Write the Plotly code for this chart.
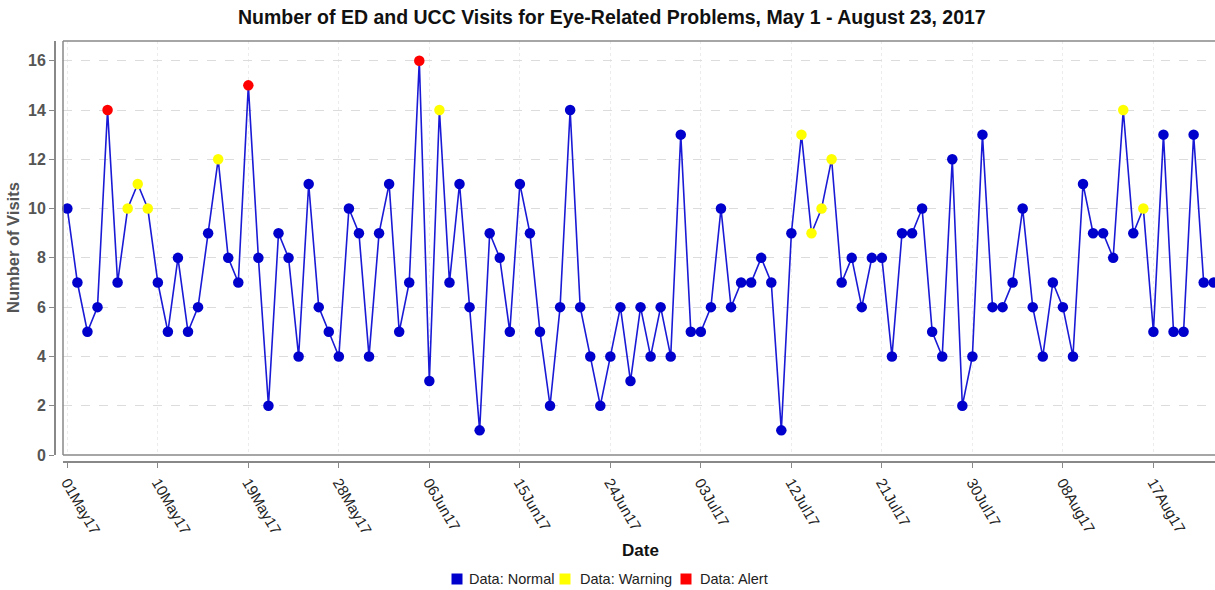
import plotly.graph_objects as go
import pandas as pd

start_date = "2017-05-01"
visits = [10, 7, 5, 6, 14, 7, 10, 11, 10, 7, 5, 8, 5, 6, 9, 12, 8, 7, 15, 8,
          2, 9, 8, 4, 11, 6, 5, 4, 10, 9, 4, 9, 11, 5, 7, 16, 3, 14, 7, 11,
          6, 1, 9, 8, 5, 11, 9, 5, 2, 6, 14, 6, 4, 2, 4, 6, 3, 6, 4, 6,
          4, 13, 5, 5, 6, 10, 6, 7, 7, 8, 7, 1, 9, 13, 9, 10, 12, 7, 8, 6,
          8, 8, 4, 9, 9, 10, 5, 4, 12, 2, 4, 13, 6, 6, 7, 10, 6, 4, 7, 6,
          4, 11, 9, 9, 8, 14, 9, 10, 5, 13, 5, 5, 13, 7, 7]
status = ["N", "N", "N", "N", "A", "N", "W", "W", "W", "N", "N", "N", "N", "N", "N", "W", "N", "N", "A", "N",
          "N", "N", "N", "N", "N", "N", "N", "N", "N", "N", "N", "N", "N", "N", "N", "A", "N", "W", "N", "N",
          "N", "N", "N", "N", "N", "N", "N", "N", "N", "N", "N", "N", "N", "N", "N", "N", "N", "N", "N", "N",
          "N", "N", "N", "N", "N", "N", "N", "N", "N", "N", "N", "N", "N", "W", "W", "W", "W", "N", "N", "N",
          "N", "N", "N", "N", "N", "N", "N", "N", "N", "N", "N", "N", "N", "N", "N", "N", "N", "N", "N", "N",
          "N", "N", "N", "N", "N", "W", "N", "W", "N", "N", "N", "N", "N", "N", "N"]

dates = pd.date_range(start_date, periods=len(visits), freq="D")
df = pd.DataFrame({"date": dates, "visits": visits, "status": status})

groups = [("N", "Data: Normal", "#0000CC"),
          ("W", "Data: Warning", "#FFFF00"),
          ("A", "Data: Alert", "#FF0000")]
# legend placement (pixel x of square centre, text left)
legend_pos = [(457, 467), (565, 578), (686, 698)]

FONT = "Liberation Sans, Arial, sans-serif"

fig = go.Figure()
fig.add_trace(go.Scatter(x=df["date"], y=df["visits"], mode="lines",
                         line=dict(color="#1a1ad6", width=1.6),
                         showlegend=False, hoverinfo="skip"))
for code, name, color in groups:
    sub = df[df["status"] == code]
    fig.add_trace(go.Scatter(x=sub["date"], y=sub["visits"], mode="markers",
                             marker=dict(color=color, size=10.5, symbol="circle",
                                         line=dict(width=0)),
                             name=name, showlegend=False, cliponaxis=False))

W, H = 1215, 590
ml, mr, mt, mb = 55, 0, 41, 128
pw, ph = W - ml - mr, H - mt - mb
xd0 = 8 / pw
yd0 = 7 / ph


def px(x):
    return (x - ml) / pw


def py(y):
    return (mt + ph - y) / ph


fig.update_layout(
    width=W, height=H,
    margin=dict(l=ml, r=mr, t=mt, b=mb, autoexpand=False),
    plot_bgcolor="white", paper_bgcolor="white",
    font=dict(family=FONT, color="#222"),
    showlegend=False,
    xaxis=dict(domain=[xd0, 1], anchor="free", position=0,
               range=["2017-04-30 13:40", "2017-08-23 03:00"],
               tick0=start_date, dtick=9 * 86400000, tickformat="%d%b%y",
               tickangle=60, ticks="outside", ticklen=5, tickcolor="#888",
               tickfont=dict(size=15, color="#222", family=FONT),
               showline=True, linecolor="#888", linewidth=2,
               showgrid=True, gridcolor="#ececec", griddash="dot", gridwidth=1,
               zeroline=False),
    yaxis=dict(domain=[yd0, 1], anchor="free", position=0,
               range=[0, 16.8], tickvals=list(range(0, 17, 2)),
               ticks="outside", ticklen=5, tickcolor="#888",
               tickfont=dict(size=16, color="#555", family=FONT, weight="bold"),
               showline=True, linecolor="#888", linewidth=2,
               showgrid=True, gridcolor="#dcdcdc", griddash="dash", gridwidth=1,
               zeroline=False),
)

# plot frame (left, top, bottom)
frame = dict(type="line", xref="paper", yref="paper", line=dict(color="#888", width=1.5))
fig.add_shape(**frame, x0=xd0, x1=xd0, y0=yd0, y1=1)
fig.add_shape(**frame, x0=xd0, x1=1, y0=1, y1=1)
fig.add_shape(**frame, x0=xd0, x1=1, y0=yd0, y1=yd0)

# legend (squares + labels)
for (code, name, color), (sx, tx) in zip(groups, legend_pos):
    fig.add_shape(type="rect", xref="paper", yref="paper",
                  x0=px(sx - 5.5), x1=px(sx + 5.5), y0=py(579 + 5.5), y1=py(579 - 5.5),
                  fillcolor=color, line=dict(width=0))
    fig.add_annotation(text=name, xref="paper", yref="paper", x=px(tx), y=py(579),
                       showarrow=False, xanchor="left", yanchor="middle",
                       font=dict(size=14.5, color="#222", family=FONT))

fig.add_annotation(text="<b>Number of ED and UCC Visits for Eye-Related Problems, May 1 - August 23, 2017</b>",
                   xref="paper", yref="paper", x=px(612), y=py(17),
                   showarrow=False, xanchor="center", yanchor="middle",
                   font=dict(size=19.5, color="#111", family=FONT))
fig.add_annotation(text="<b>Date</b>", xref="paper", yref="paper",
                   x=px(640), y=py(550),
                   showarrow=False, xanchor="center", yanchor="middle",
                   font=dict(size=17, color="#111", family=FONT))
fig.add_annotation(text="<b>Number of Visits</b>", xref="paper", yref="paper",
                   x=px(13), y=py(248), textangle=-90,
                   showarrow=False, xanchor="center", yanchor="middle",
                   font=dict(size=16.5, color="#555", family=FONT))

fig.write_html("out.html", config={"displayModeBar": False},
               post_script="document.body.style.margin='0px';document.body.style.overflow='hidden';")
